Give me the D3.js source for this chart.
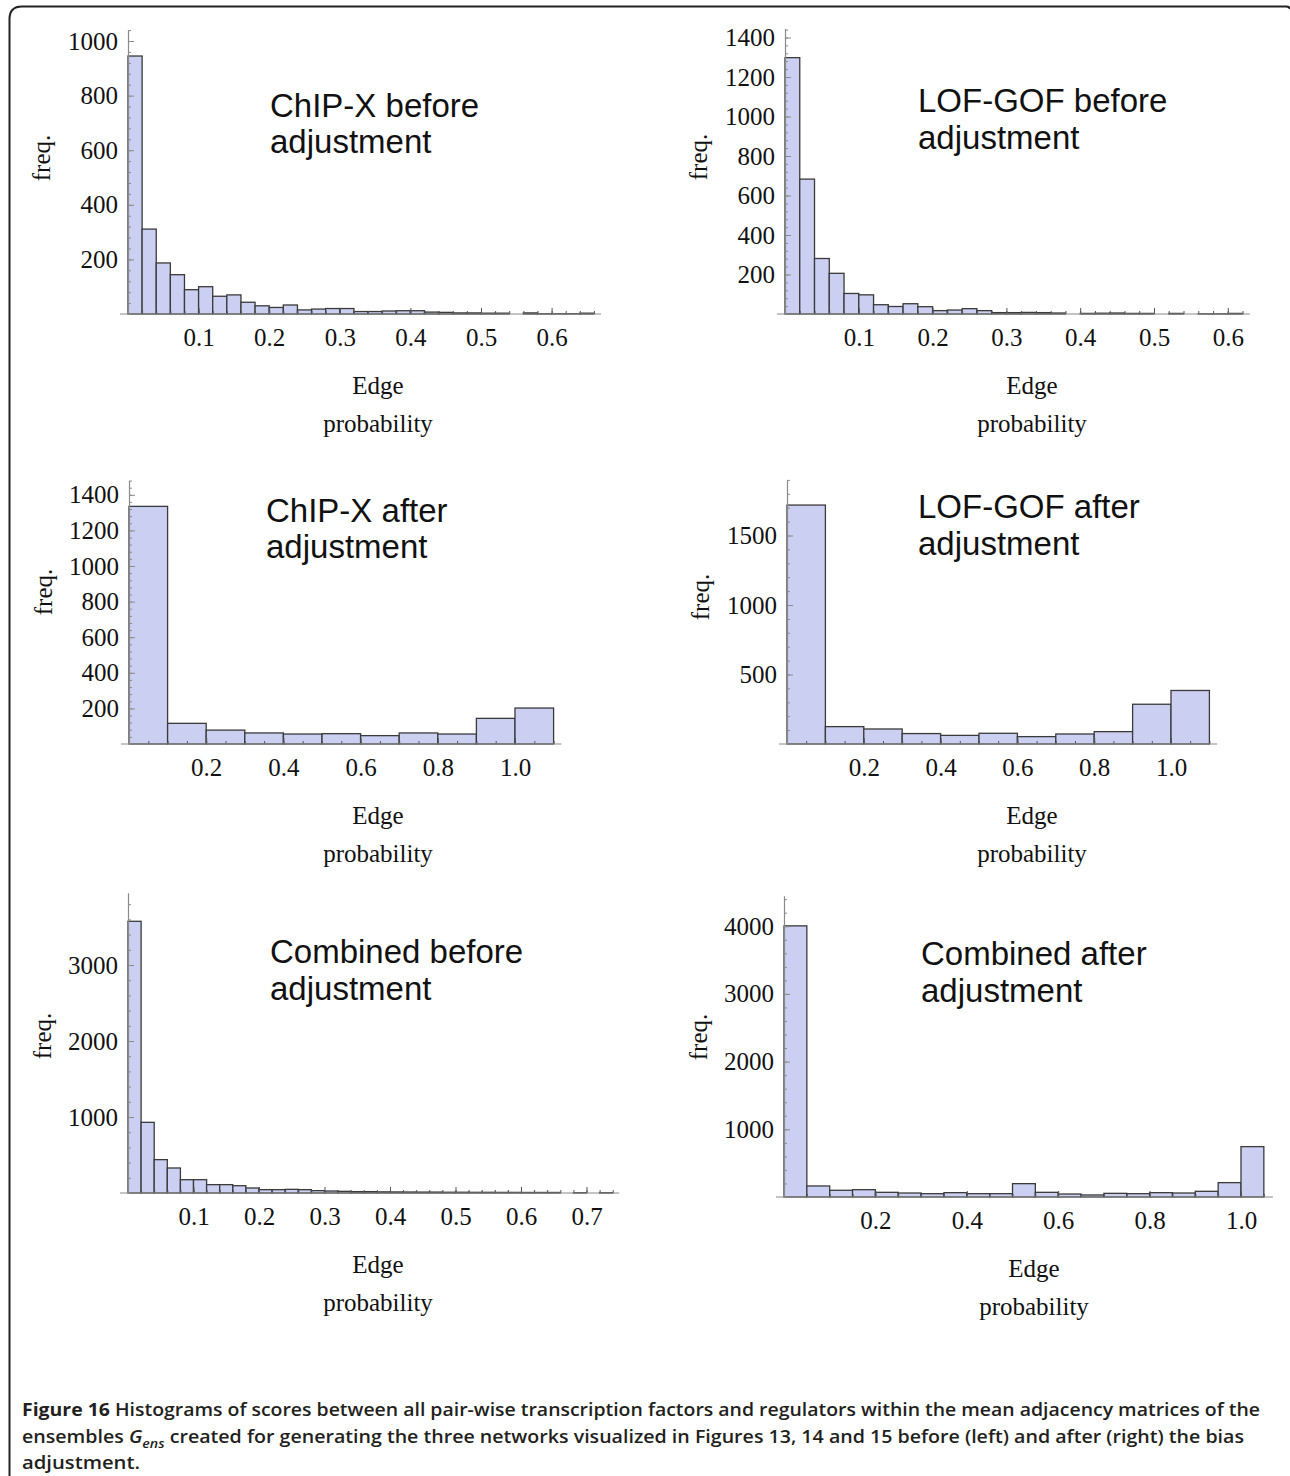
<!DOCTYPE html>
<html><head><meta charset="utf-8">
<script src="https://cdn.jsdelivr.net/npm/d3@7"></script>
<style>body{margin:0;background:#fff}</style>
</head><body>
<svg id="c" width="1290" height="1476"></svg>
<script>
// ---------- data ----------
const panelTitles = [
  ["ChIP-X before", "adjustment"],
  ["LOF-GOF before", "adjustment"],
  ["ChIP-X after", "adjustment"],
  ["LOF-GOF after", "adjustment"],
  ["Combined before", "adjustment"],
  ["Combined after", "adjustment"]
];
const binWidths = [0.02, 0.02, 0.1, 0.1, 0.02, 0.05];
const chipxBefore = [945,311,187,144,89,100,65,70,43,30,24,33,15,18,20,20,9,9,11,12,12,7,6,4,4,3,3,0,4,1,1,1,3];
const lofgofBefore = [1298,683,281,206,104,97,47,38,52,37,17,20,27,17,7,7,8,7,5,0,3,4,5,3,3,0,3,0,1,1,3];
const chipxAfter = [1335,116,78,62,56,58,47,62,56,144,202];
const lofgofAfter = [1719,125,108,75,62,77,53,72,89,286,385];
const combinedBefore = [3575,930,439,329,175,175,110,110,96,66,44,44,48,44,31,26,22,18,18,15,14,13,12,12,10,10,9,9,8,8,7,7,7,0,4,0,4];
const combinedAfter = [4005,163,99,108,69,59,49,64,49,49,197,69,44,30,54,49,64,59,84,212,744];
const seriesList = [chipxBefore, lofgofBefore, chipxAfter, lofgofAfter, combinedBefore, combinedAfter];
const xTickValues = [
  [0.1,0.2,0.3,0.4,0.5,0.6],
  [0.1,0.2,0.3,0.4,0.5,0.6],
  [0.2,0.4,0.6,0.8,1.0],
  [0.2,0.4,0.6,0.8,1.0],
  [0.1,0.2,0.3,0.4,0.5,0.6,0.7],
  [0.2,0.4,0.6,0.8,1.0]
];
const yTickValues = [
  [200,400,600,800,1000],
  [200,400,600,800,1000,1200,1400],
  [200,400,600,800,1000,1200,1400],
  [500,1000,1500],
  [1000,2000,3000],
  [1000,2000,3000,4000]
];
const yAxisLabel = "freq.";
const xAxisLabel = ["Edge", "probability"];
const captionBold = "Figure 16";
const captionLine1 = " Histograms of scores between all pair-wise transcription factors and regulators within the mean adjacency matrices of the";
const captionLine2a = "ensembles ";
const captionLine2b = " created for generating the three networks visualized in Figures 13, 14 and 15 before (left) and after (right) the bias";
const captionLine3 = "adjustment.";

// ---------- layout ----------
const layout = [
  {x0:128, kx:706, xMax:0.67, y0:314, ky:0.273, yMax:1040, minorX:0.02, freqX:50, freqY:158, titleX:270, titleY:[117,153], labelX:378},
  {x0:785, kx:738, xMax:0.63, y0:314, ky:0.1975, yMax:1445, minorX:0.02, freqX:707, freqY:157, titleX:918, titleY:[112,149], labelX:1032},
  {x0:129, kx:386, xMax:1.12, y0:744, ky:0.178, yMax:1480, minorX:0.05, freqX:52, freqY:592, titleX:266, titleY:[522,558], labelX:378},
  {x0:787, kx:384, xMax:1.12, y0:744, ky:0.139, yMax:1900, minorX:0.05, freqX:709, freqY:597, titleX:918, titleY:[518,555], labelX:1032},
  {x0:128, kx:655, xMax:0.75, y0:1193, ky:0.076, yMax:3950, minorX:0.02, freqX:51, freqY:1036, titleX:270, titleY:[963,1000], labelX:378},
  {x0:784, kx:457, xMax:1.07, y0:1197, ky:0.0677, yMax:4450, minorX:0.05, freqX:707, freqY:1037, titleX:921, titleY:[965,1002], labelX:1034}
];

const svg = d3.select("#c");
svg.append("rect").attr("width",1290).attr("height",1476).attr("fill","#fff");

// outer frame (open at right/bottom)
svg.append("path")
  .attr("d","M9.5,1476 V19 Q9.5,6.5 22,6.5 H1286 Q1289.5,6.5 1290,9")
  .attr("fill","none").attr("stroke","#222").attr("stroke-width",2);

const serif = "'Liberation Serif','Times New Roman',serif";
const sans = "'Liberation Sans',Arial,sans-serif";
const axisColor = "#8a8a8a";

layout.forEach((L, i) => {
  const data = seriesList[i];
  const bw = binWidths[i];
  const x = d3.scaleLinear().domain([0, L.xMax]).range([L.x0, L.x0 + L.xMax * L.kx]);
  const y = d3.scaleLinear().domain([0, L.yMax]).range([L.y0, L.y0 - L.yMax * L.ky]);
  const g = svg.append("g");

  // bars
  g.selectAll("rect.bar").data(data.map((v, j) => ({v, j})).filter(d => d.v > 0))
    .enter().append("rect")
    .attr("x", d => x(d.j * bw))
    .attr("width", d => x((d.j + 1) * bw) - x(d.j * bw))
    .attr("y", d => y(d.v))
    .attr("height", d => y(0) - y(d.v))
    .attr("fill", "#cbd0f3")
    .attr("stroke", "#3a3a3a")
    .attr("stroke-width", 1.3);

  // y axis minor ticks
  const yMajorStep = yTickValues[i][1] - yTickValues[i][0];
  const yMinor = d3.range(0, L.yMax + 1e-9, yMajorStep / 5).filter(v => v > 0);
  const yMinorAxis = d3.axisLeft(y).tickValues(yMinor).tickSize(-3).tickFormat("").tickSizeOuter(0);
  const gyMin = g.append("g").attr("transform", `translate(${L.x0},0)`).call(yMinorAxis);
  gyMin.select(".domain").remove();
  gyMin.selectAll("line").attr("stroke", axisColor);

  const yAxis = d3.axisLeft(y).tickValues(yTickValues[i]).tickSize(-6).tickPadding(10).tickSizeOuter(0)
    .tickFormat(d3.format("d"));
  const gy = g.append("g").attr("transform", `translate(${L.x0},0)`).call(yAxis);
  gy.select(".domain").attr("stroke", axisColor).attr("stroke-width", 1.2);
  gy.selectAll("line").attr("stroke", axisColor);
  gy.selectAll("text").attr("font-family", serif).attr("font-size", 25).attr("fill", "#111");

  // x axis
  const xMinor = d3.range(0, L.xMax + 1e-9, L.minorX).filter(v => v > 1e-9);
  const xMinorAxis = d3.axisBottom(x).tickValues(xMinor).tickSize(-3).tickFormat("").tickSizeOuter(0);
  const gxMin = g.append("g").attr("transform", `translate(0,${L.y0})`).call(xMinorAxis);
  gxMin.select(".domain").remove();
  gxMin.selectAll("line").attr("stroke", "#555");

  const xAxis = d3.axisBottom(x).tickValues(xTickValues[i]).tickSize(-6).tickPadding(14).tickSizeOuter(0)
    .tickFormat(d3.format(".1f"));
  const gx = g.append("g").attr("transform", `translate(0,${L.y0})`).call(xAxis);
  gx.select(".domain").remove();
  gx.selectAll("line").attr("stroke", "#555");
  gx.selectAll("text").attr("font-family", serif).attr("font-size", 25).attr("fill", "#111");
  g.append("line").attr("x1", L.x0 - 8).attr("x2", x(L.xMax)).attr("y1", L.y0).attr("y2", L.y0)
    .attr("stroke", axisColor).attr("stroke-width", 1.2);

  // axis labels
  g.append("text").attr("transform", `translate(${L.freqX},${L.freqY}) rotate(-90)`)
    .attr("text-anchor", "middle").attr("font-family", serif).attr("font-size", 25).attr("fill", "#111")
    .text(yAxisLabel);
  xAxisLabel.forEach((t, k) => {
    g.append("text").attr("x", L.labelX).attr("y", L.y0 + 80 + k * 38)
      .attr("text-anchor", "middle").attr("font-family", serif).attr("font-size", 25).attr("fill", "#111")
      .text(t);
  });

  // title
  panelTitles[i].forEach((t, k) => {
    g.append("text").attr("x", L.titleX).attr("y", L.titleY[k])
      .attr("font-family", sans).attr("font-size", 33).attr("fill", "#111").text(t);
  });
});

// caption
const capFont = "'Open Sans','Noto Sans',sans-serif";
const c1 = svg.append("text").attr("x", 22).attr("y", 1416).attr("font-family", capFont)
  .attr("font-size", 18).attr("font-weight", 600).attr("fill", "#231f20")
  .attr("textLength", 1238).attr("lengthAdjust", "spacingAndGlyphs");
c1.append("tspan").attr("font-weight", 700).text(captionBold);
c1.append("tspan").text(captionLine1);
const c2 = svg.append("text").attr("x", 22).attr("y", 1443).attr("font-family", capFont)
  .attr("font-size", 18).attr("font-weight", 600).attr("fill", "#231f20")
  .attr("textLength", 1222).attr("lengthAdjust", "spacingAndGlyphs");
c2.append("tspan").text(captionLine2a);
c2.append("tspan").attr("font-style", "italic").text("G");
c2.append("tspan").attr("font-style", "italic").attr("font-size", 13).attr("dy", 5).text("ens");
c2.append("tspan").attr("dy", -5).text(captionLine2b);
svg.append("text").attr("x", 22).attr("y", 1469).attr("font-family", capFont)
  .attr("font-size", 18).attr("font-weight", 600).attr("fill", "#231f20")
  .attr("textLength", 118).attr("lengthAdjust", "spacingAndGlyphs").text(captionLine3);
</script>
</body></html>
